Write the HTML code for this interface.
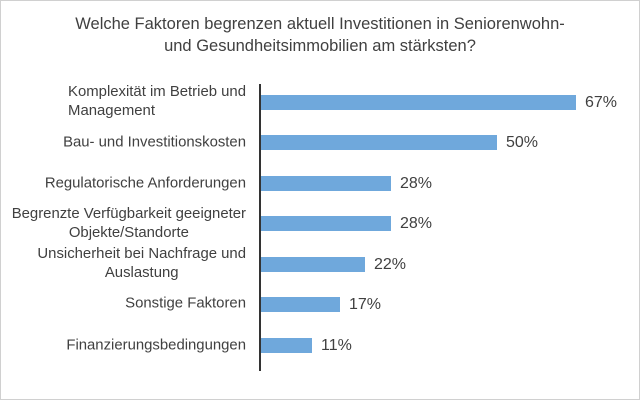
<!DOCTYPE html><html><head><style>
body{margin:0;width:640px;height:400px;background:#fff;font-family:"Liberation Sans",sans-serif;}
.f{position:absolute;left:0;top:0;width:638px;height:398px;border:1px solid #d0d0d0;}
.t{position:absolute;left:0;width:640px;text-align:center;font-size:16.5px;color:#404040;}
.l{position:absolute;right:394px;text-align:center;font-size:14.9px;color:#404040;line-height:19px;transform:translateY(-50%);white-space:nowrap;}
.b{position:absolute;left:261px;height:15px;background:#6fa8dc;}
.v{position:absolute;font-size:16px;color:#404040;transform:translateY(-50%);}
</style></head><body><div class="f"></div>
<div class="t" style="top:15px">Welche Faktoren begrenzen aktuell Investitionen in Seniorenwohn-</div>
<div class="t" style="top:37px">und Gesundheitsimmobilien am stärksten?</div>
<div style="position:absolute;left:259px;top:84px;width:2px;height:287px;background:#333"></div>
<div class="l" style="top:102px;text-align:left">Komplexität im Betrieb und<br>Management</div>
<div class="b" style="top:95px;width:315px"></div><div class="v" style="left:585px;top:103px">67%</div>
<div class="l" style="top:143px">Bau- und Investitionskosten</div>
<div class="b" style="top:135px;width:236px"></div><div class="v" style="left:506px;top:143px">50%</div>
<div class="l" style="top:184px">Regulatorische Anforderungen</div>
<div class="b" style="top:176px;width:130px"></div><div class="v" style="left:400px;top:184px">28%</div>
<div class="l" style="top:224px">Begrenzte Verfügbarkeit geeigneter<br>Objekte/Standorte</div>
<div class="b" style="top:216px;width:130px"></div><div class="v" style="left:400px;top:224px">28%</div>
<div class="l" style="top:264px">Unsicherheit bei Nachfrage und<br>Auslastung</div>
<div class="b" style="top:257px;width:104px"></div><div class="v" style="left:374px;top:265px">22%</div>
<div class="l" style="top:304px">Sonstige Faktoren</div>
<div class="b" style="top:297px;width:79px"></div><div class="v" style="left:349px;top:305px">17%</div>
<div class="l" style="top:346px">Finanzierungsbedingungen</div>
<div class="b" style="top:338px;width:51px"></div><div class="v" style="left:321px;top:346px">11%</div>
</body></html>
